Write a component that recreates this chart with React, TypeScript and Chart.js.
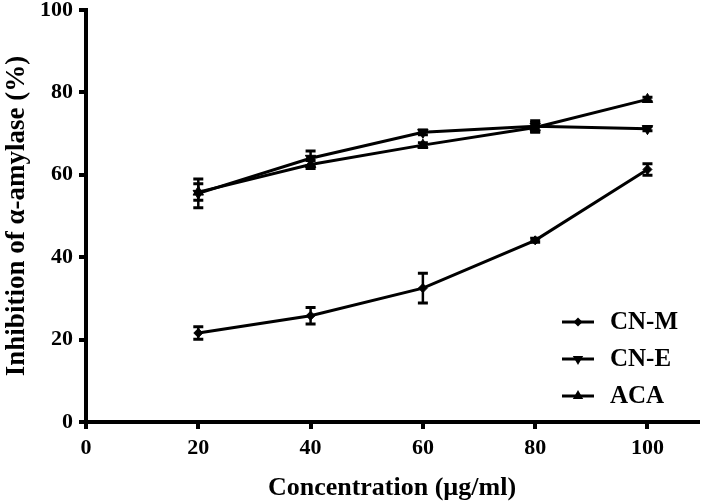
import React, { useEffect, useRef } from "react";
import { Chart, registerables } from "chart.js";

Chart.register(...registerables);

const concentrations = [20, 40, 60, 80, 100];
const seriesNames = ["CN-M", "CN-E", "ACA"];
const cnM = [21.6, 25.8, 32.5, 44.1, 61.3];
const cnMErr = [1.5, 2.0, 3.6, 0.5, 1.4];
const cnE = [55.5, 64.0, 70.3, 71.8, 71.2];
const cnEErr = [3.5, 1.8, 0.6, 1.3, 0.5];
const aca = [55.8, 62.5, 67.2, 71.5, 78.3];
const acaErr = [2.0, 1.0, 0.6, 1.2, 0.5];
const xTicks = [0, 20, 40, 60, 80, 100];
const yTicks = [0, 20, 40, 60, 80, 100];

const FONT = "'Liberation Serif', 'Times New Roman', serif";

function drawMarker(ctx: CanvasRenderingContext2D, style: string, rot: number, x: number, y: number, r: number) {
  ctx.save();
  ctx.translate(x, y);
  ctx.rotate((rot * Math.PI) / 180);
  ctx.beginPath();
  if (style === "rectRot") {
    ctx.moveTo(0, -r);
    ctx.lineTo(r, 0);
    ctx.lineTo(0, r);
    ctx.lineTo(-r, 0);
  } else {
    ctx.moveTo(0, -r);
    ctx.lineTo(r * 0.866, r * 0.5);
    ctx.lineTo(-r * 0.866, r * 0.5);
  }
  ctx.closePath();
  ctx.fillStyle = "#000";
  ctx.fill();
  ctx.restore();
}

const errorBarPlugin = {
  id: "errorBars",
  afterDatasetsDraw(chart: any) {
    const ctx = chart.ctx;
    const yScale = chart.scales.y;
    chart.data.datasets.forEach((ds: any, i: number) => {
      const meta = chart.getDatasetMeta(i);
      const errs: number[] = ds.errors || [];
      meta.data.forEach((pt: any, j: number) => {
        const v = ds.data[j].y;
        const e = errs[j];
        if (!e) return;
        const yt = yScale.getPixelForValue(v + e);
        const yb = yScale.getPixelForValue(v - e);
        ctx.save();
        ctx.strokeStyle = "#000";
        ctx.lineWidth = 2.5;
        ctx.beginPath();
        ctx.moveTo(pt.x, yt);
        ctx.lineTo(pt.x, yb);
        ctx.stroke();
        ctx.lineWidth = 3;
        ctx.beginPath();
        ctx.moveTo(pt.x - 5, yt);
        ctx.lineTo(pt.x + 5, yt);
        ctx.moveTo(pt.x - 5, yb);
        ctx.lineTo(pt.x + 5, yb);
        ctx.stroke();
        ctx.restore();
      });
    });
  },
};

const legendPlugin = {
  id: "customLegend",
  afterDraw(chart: any) {
    const ctx = chart.ctx;
    const area = chart.chartArea;
    const x0 = area.right - 136;
    const y0 = area.bottom - 100;
    const rowGap = 37;
    chart.data.datasets.forEach((ds: any, i: number) => {
      const y = y0 + i * rowGap;
      ctx.save();
      ctx.strokeStyle = "#000";
      ctx.lineWidth = 3;
      ctx.beginPath();
      ctx.moveTo(x0, y);
      ctx.lineTo(x0 + 32, y);
      ctx.stroke();
      drawMarker(ctx, ds.pointStyle, ds.pointRotation || 0, x0 + 16, y, ds.pointRadius);
      ctx.fillStyle = "#000";
      ctx.font = `bold 25px ${FONT}`;
      ctx.textBaseline = "middle";
      ctx.textAlign = "left";
      ctx.fillText(ds.label, x0 + 48, y + 1);
      ctx.restore();
    });
  },
};

export default function App() {
  const ref = useRef<HTMLCanvasElement | null>(null);
  useEffect(() => {
    document.body.style.margin = "0";
    const toXY = (arr: number[]) => arr.map((v, i) => ({ x: concentrations[i], y: v }));
    const mk = (label: string, data: number[], errors: number[], style: string, rot: number, r: number) => ({
      label,
      data: toXY(data),
      errors,
      borderColor: "#000",
      backgroundColor: "#000",
      borderWidth: 3,
      pointStyle: style,
      pointRotation: rot,
      pointRadius: r,
      pointBorderWidth: 1,
      pointBorderColor: "#000",
      pointBackgroundColor: "#000",
      tension: 0,
    });
    const chart = new Chart(ref.current as HTMLCanvasElement, {
      type: "line",
      data: {
        datasets: [
          mk(seriesNames[0], cnM, cnMErr, "rectRot", 0, 4.5),
          mk(seriesNames[1], cnE, cnEErr, "triangle", 180, 6),
          mk(seriesNames[2], aca, acaErr, "triangle", 0, 6),
        ] as any,
      },
      options: {
        responsive: false,
        animation: false,
        layout: { padding: { top: 10, right: 11, bottom: 0, left: 0 } },
        plugins: { legend: { display: false }, tooltip: { enabled: false } },
        scales: {
          x: {
            type: "linear",
            min: 0,
            max: 109,
            afterBuildTicks: (s: any) => {
              s.ticks = xTicks.map((v) => ({ value: v }));
            },
            afterFit: (s: any) => {
              s.height = 79;
              s.paddingLeft = 0;
              s.paddingRight = 0;
            },
            ticks: { color: "#000", font: { family: FONT, size: 22, weight: "bold" }, padding: 6, maxRotation: 0 },
            grid: { display: true, drawOnChartArea: false, drawTicks: true, tickLength: 7, tickWidth: 4, tickColor: "#000", lineWidth: 4, color: "#000" },
            border: { display: true, width: 4, color: "#000" },
            title: { display: true, text: "Concentration (µg/ml)", color: "#000", font: { family: FONT, size: 26, weight: "bold", lineHeight: 1 }, padding: 0 },
          },
          y: {
            type: "linear",
            min: 0,
            max: 100,
            afterBuildTicks: (s: any) => {
              s.ticks = yTicks.map((v) => ({ value: v }));
            },
            afterFit: (s: any) => {
              s.width = 86;
              s.paddingTop = 0;
              s.paddingBottom = 0;
            },
            ticks: { color: "#000", font: { family: FONT, size: 22, weight: "bold" }, padding: 6 },
            grid: { display: true, drawOnChartArea: false, drawTicks: true, tickLength: 7, tickWidth: 4, tickColor: "#000", lineWidth: 4, color: "#000" },
            border: { display: true, width: 4, color: "#000" },
            title: { display: true, text: "Inhibition of α-amylase (%)", color: "#000", font: { family: FONT, size: 27, weight: "bold", lineHeight: 1 }, padding: { top: 4, bottom: 0 } },
          },
        },
      } as any,
      plugins: [errorBarPlugin, legendPlugin],
    });
    return () => chart.destroy();
  }, []);
  return (
    <div style={{ width: 709, height: 501 }}>
      <canvas ref={ref} width={709} height={501} style={{ display: "block" }} />
    </div>
  );
}
